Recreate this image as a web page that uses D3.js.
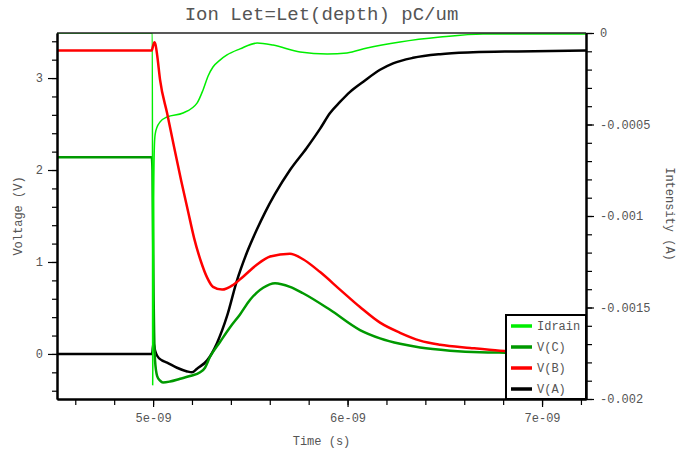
<!DOCTYPE html>
<html>
<head>
<meta charset="utf-8">
<script src="https://cdn.jsdelivr.net/npm/d3@7"></script>
<style>
  body { margin: 0; background: #fff; }
  text { font-family: "Liberation Mono", "DejaVu Sans Mono", monospace; }
</style>
</head>
<body>
<script>
// times are in ns, voltages in V, current in A

var idrainT = [4.5, 4.9964, 4.9979, 5.001, 5.0031, 5.0062, 5.0103, 5.0206, 5.036, 5.072, 5.154, 5.226, 5.257, 5.283, 5.308, 5.344, 5.380, 5.447, 5.535, 5.617, 5.756, 5.895, 5.997, 6.100, 6.270, 6.476, 6.697, 7.226];
var idrainI = [0, 0, -0.001923, -0.001459, -0.000913, -0.000639, -0.000557, -0.000514, -0.000486, -0.000459, -0.000437, -0.000383, -0.000311, -0.000235, -0.000186, -0.000148, -0.000120, -0.000087, -0.000055, -0.000066, -0.000104, -0.000115, -0.000109, -0.000082, -0.000049, -0.000022, -0.000005, -0.000005];

var vcT = [4.5, 4.993, 4.997, 5.003, 5.010, 5.021, 5.036, 5.051, 5.087, 5.139, 5.190, 5.242, 5.267, 5.293, 5.344, 5.396, 5.447, 5.499, 5.535, 5.566, 5.627, 5.704, 5.771, 5.910, 6.064, 6.167, 6.270, 6.373, 6.527, 6.681, 6.810, 7.226];
var vcV = [2.14, 2.14, 2.00, 0.59, -0.07, -0.24, -0.29, -0.31, -0.30, -0.27, -0.24, -0.20, -0.15, -0.03, 0.13, 0.29, 0.43, 0.59, 0.67, 0.72, 0.77, 0.73, 0.66, 0.48, 0.26, 0.17, 0.11, 0.07, 0.036, 0.018, 0.014, 0.009];

var vbT = [4.5, 4.993, 5.0, 5.007, 5.013, 5.021, 5.036, 5.072, 5.108, 5.144, 5.180, 5.211, 5.247, 5.278, 5.308, 5.355, 5.411, 5.463, 5.533, 5.602, 5.704, 5.771, 5.859, 5.961, 6.064, 6.167, 6.270, 6.373, 6.476, 6.630, 6.784, 6.990, 7.226];
var vbV = [3.30, 3.30, 3.35, 3.39, 3.36, 3.25, 2.98, 2.62, 2.25, 1.89, 1.55, 1.26, 1.00, 0.83, 0.73, 0.70, 0.75, 0.84, 0.97, 1.06, 1.09, 1.03, 0.89, 0.70, 0.51, 0.34, 0.23, 0.145, 0.10, 0.065, 0.036, 0.022, 0.013];

var vaT = [4.5, 4.995, 5.002, 5.010, 5.021, 5.046, 5.072, 5.123, 5.175, 5.200, 5.226, 5.278, 5.329, 5.380, 5.430, 5.482, 5.533, 5.576, 5.627, 5.704, 5.790, 5.859, 5.910, 5.961, 6.013, 6.081, 6.167, 6.234, 6.337, 6.476, 6.645, 6.871, 7.226];
var vaV = [0, 0, 0.12, 0.04, -0.02, -0.07, -0.095, -0.15, -0.19, -0.20, -0.16, -0.07, 0.12, 0.41, 0.79, 1.10, 1.35, 1.54, 1.74, 2.00, 2.24, 2.45, 2.62, 2.74, 2.85, 2.96, 3.09, 3.16, 3.22, 3.26, 3.28, 3.29, 3.30];

var xTicks = [5, 6, 7];
var xTickLabels = ["5e-09", "6e-09", "7e-09"];
var yTicks = [0, 1, 2, 3];
var iTicks = [0, -0.0005, -0.001, -0.0015, -0.002];
var iTickLabels = ["0", "-0.0005", "-0.001", "-0.0015", "-0.002"];

var legendNames = ["Idrain", "V(C)", "V(B)", "V(A)"];
var legendColors = ["#00ee00", "#009900", "#ff0000", "#000000"];

var w = 676, h = 450;
var m = {left: 57, right: 90, top: 33, bottom: 51};
var textCol = "#555";

var svg = d3.select("body").append("svg")
	.attr("width", w)
	.attr("height", h);

var x = d3.scaleLinear().domain([4.506, 7.226]).range([m.left, w - m.right]);
var y = d3.scaleLinear().domain([-0.49, 3.49]).range([h - m.bottom, m.top]);
var yI = d3.scaleLinear().domain([-0.002, 0]).range([h - m.bottom, m.top]);

svg.append("clipPath").attr("id", "clip")
	.append("rect")
	.attr("x", m.left).attr("y", m.top)
	.attr("width", w - m.left - m.right)
	.attr("height", h - m.top - m.bottom);

// series, drawn back to front
var series = [
	{t: vaT, v: vaV, col: legendColors[3], sw: 2.5, sc: y},
	{t: vcT, v: vcV, col: legendColors[1], sw: 2.5, sc: y},
	{t: idrainT, v: idrainI, col: legendColors[0], sw: 1.5, sc: yI},
	{t: vbT, v: vbV, col: legendColors[2], sw: 2.5, sc: y}
];

var plot = svg.append("g").attr("clip-path", "url(#clip)");
series.forEach(function(s) {
	var pts = s.t.map(function(t, i) { return [t, s.v[i]]; });
	var line = d3.line()
		.x(function(d) { return x(d[0]); })
		.y(function(d) { return s.sc(d[1]); })
		.curve(d3.curveMonotoneX);
	plot.append("path")
		.datum(pts)
		.attr("d", line)
		.attr("fill", "none")
		.attr("stroke", s.col)
		.attr("stroke-width", s.sw)
		.attr("stroke-linejoin", "round");
});

// top frame line
svg.append("line")
	.attr("x1", m.left).attr("x2", w - m.right)
	.attr("y1", m.top).attr("y2", m.top)
	.attr("stroke", "#222").attr("stroke-width", 1.5);

function styleAxis(g) {
	g.select(".domain").attr("stroke", "#000").attr("stroke-width", 2);
	g.selectAll(".tick line").attr("stroke", "#000").attr("stroke-width", 1.2);
	g.selectAll("text")
		.attr("fill", textCol)
		.style("font-size", "12px")
		.style("font-family", "'Liberation Mono', monospace");
}

// x axis: minor then major
var xMinor = d3.range(4.6, 7.21, 0.2);
svg.append("g")
	.attr("transform", "translate(0," + (h - m.bottom) + ")")
	.call(d3.axisBottom(x).tickValues(xMinor).tickSize(6).tickFormat("").tickSizeOuter(0))
	.call(styleAxis);
svg.append("g")
	.attr("transform", "translate(0," + (h - m.bottom) + ")")
	.call(d3.axisBottom(x).tickValues(xTicks).tickSize(8).tickPadding(6).tickSizeOuter(0)
		.tickFormat(function(d, i) { return xTickLabels[i]; }))
	.call(styleAxis);

// left axis
var yMinor = d3.range(-0.4, 3.41, 0.2);
svg.append("g")
	.attr("transform", "translate(" + m.left + ",0)")
	.call(d3.axisLeft(y).tickValues(yMinor).tickSize(5).tickFormat("").tickSizeOuter(0))
	.call(styleAxis);
svg.append("g")
	.attr("transform", "translate(" + m.left + ",0)")
	.call(d3.axisLeft(y).tickValues(yTicks).tickSize(9).tickPadding(5).tickSizeOuter(0)
		.tickFormat(d3.format("d")))
	.call(styleAxis);

// right axis (current)
var iMinor = d3.range(0, 21).map(function(k) { return -k * 0.0001; });
svg.append("g")
	.attr("transform", "translate(" + (w - m.right) + ",0)")
	.call(d3.axisRight(yI).tickValues(iMinor).tickSize(6).tickFormat("").tickSizeOuter(0))
	.call(styleAxis);
svg.append("g")
	.attr("transform", "translate(" + (w - m.right) + ",0)")
	.call(d3.axisRight(yI).tickValues(iTicks).tickSize(8).tickPadding(6).tickSizeOuter(0)
		.tickFormat(function(d, i) { return iTickLabels[i]; }))
	.call(styleAxis);

// titles
svg.append("text")
	.attr("x", (m.left + w - m.right) / 2).attr("y", 20)
	.attr("text-anchor", "middle")
	.attr("fill", "#555")
	.style("font-size", "19px")
	.text("Ion Let=Let(depth) pC/um");

svg.append("text")
	.attr("x", (m.left + w - m.right) / 2).attr("y", 445)
	.attr("text-anchor", "middle")
	.attr("fill", textCol)
	.style("font-size", "12px")
	.text("Time (s)");

svg.append("text")
	.attr("transform", "translate(22,216) rotate(-90)")
	.attr("text-anchor", "middle")
	.attr("fill", textCol)
	.style("font-size", "12px")
	.text("Voltage (V)");

svg.append("text")
	.attr("transform", "translate(666,214) rotate(90)")
	.attr("text-anchor", "middle")
	.attr("fill", textCol)
	.style("font-size", "12px")
	.text("Intensity (A)");

// legend
var lx = 506, ly = 315, lw = w - m.right - lx, lh = h - m.bottom - ly;
var leg = svg.append("g");
leg.append("rect")
	.attr("x", lx).attr("y", ly).attr("width", lw).attr("height", lh)
	.attr("fill", "#fff").attr("stroke", "#000").attr("stroke-width", 2);

var rows = leg.selectAll("g.row")
	.data(legendNames)
	.enter().append("g")
	.attr("class", "row")
	.attr("transform", function(d, i) { return "translate(" + lx + "," + (ly + 11 + i * 21) + ")"; });
rows.append("line")
	.attr("x1", 5).attr("x2", 26)
	.attr("stroke", function(d, i) { return legendColors[i]; })
	.attr("stroke-width", 3.5);
rows.append("text")
	.attr("x", 31).attr("dy", "0.35em")
	.attr("fill", textCol)
	.style("font-size", "12px")
	.text(function(d) { return d; });
</script>
</body>
</html>
